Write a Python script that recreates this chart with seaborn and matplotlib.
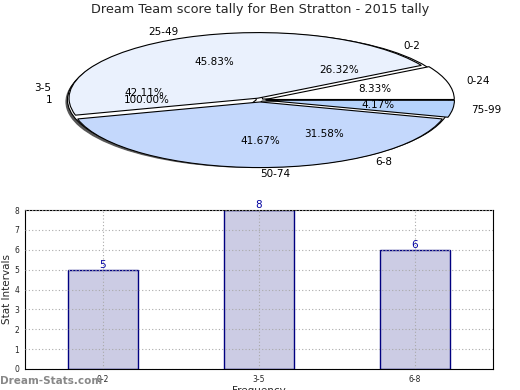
import matplotlib
matplotlib.use("Agg")
import matplotlib.pyplot as plt
import matplotlib.patches as mpatches
import seaborn as sns
import pandas as pd

# ---- data ----
title = "Dream Team score tally for Ben Stratton - 2015 tally"
score_labels = ["0-24", "25-49", "50-74", "75-99"]
score_counts = [2, 11, 10, 1]
freq_labels = ["0-2", "3-5", "6-8"]
freq_counts = [5, 8, 6]
single_labels = ["1"]
single_counts = [1]

sns.set_theme(style="white")
plt.rcParams['font.family'] = ['DejaVu Sans']

fig = plt.figure(figsize=(5.2, 3.9), dpi=100)

# ---- pie area ----
W, H = 520.0, 390.0
pl, pr, pt, pb = 24, 496, 18, 182
pax = fig.add_axes([pl / W, 1 - pb / H, (pr - pl) / W, (pb - pt) / H])

wp = dict(edgecolor="black", linewidth=0.8)
tp = dict(fontsize=7.5, color="black")

pax.pie(single_counts, labels=single_labels, autopct="%.2f%%", startangle=0,
        colors=["white"], shadow=True, wedgeprops=wp, textprops=tp)
pax.pie(freq_counts, labels=freq_labels, autopct="%.2f%%", startangle=0,
        colors=["white", "white", "white"], explode=[0.02, 0.02, 0.02],
        wedgeprops=wp, textprops=tp)
pax.pie(score_counts, labels=score_labels, autopct="%.2f%%", startangle=0,
        colors=["#ffffff", "#eaf1fd", "#c4d8fc", "#b6d3fc"],
        explode=[0.03, 0.03, 0.03, 0.03], wedgeprops=wp, textprops=tp)
for p in pax.patches:
    if isinstance(p, mpatches.Shadow):
        p.set_facecolor("#3a3a3a")
        p.set_alpha(0.85)
pax.set_aspect("auto")
pax.set_xlim(-1.25, 1.25)
pax.set_ylim(-1.25, 1.25)
pax.axis("off")

fig.text(0.5, 1 - 10 / H, title, ha="center", va="center", fontsize=9.3)

# ---- bar area ----
bl, br, bt, bb = 25, 493, 210, 369
bax = fig.add_axes([bl / W, 1 - bb / H, (br - bl) / W, (bb - bt) / H])
df = pd.DataFrame({"interval": freq_labels, "count": freq_counts})
sns.barplot(data=df, x="interval", y="count", ax=bax, color="#ccccE4",
            saturation=1, width=0.45, edgecolor="#000080", linewidth=1.0)
for i, v in enumerate(freq_counts):
    bax.text(i, v, str(v), ha="center", va="bottom", color="#0000a0", fontsize=7.5)
bax.set_xlim(-0.5, 2.5)
bax.set_ylim(0, 8)
bax.set_yticks(range(0, 9))
bax.grid(True, color="#aaaaaa", linestyle=(0, (1, 2)), linewidth=0.8)
bax.set_axisbelow(False)
for p in bax.patches:
    p.set_zorder(1)
for gl in bax.get_xgridlines() + bax.get_ygridlines():
    gl.set_zorder(2)
bax.tick_params(axis="both", labelsize=5.5, length=2, pad=2)
bax.set_xlabel("Frequency", fontsize=7.5, labelpad=2)
bax.set_ylabel("Stat Intervals", fontsize=7.5, labelpad=2)
for s in bax.spines.values():
    s.set_color("black")
    s.set_linewidth(0.8)

fig.text(0.0, 1 - 381 / H, "Dream-Stats.com", ha="left", va="center",
         fontsize=7.5, color="#888888", fontweight="bold")

fig.savefig("out.png", dpi=100)
